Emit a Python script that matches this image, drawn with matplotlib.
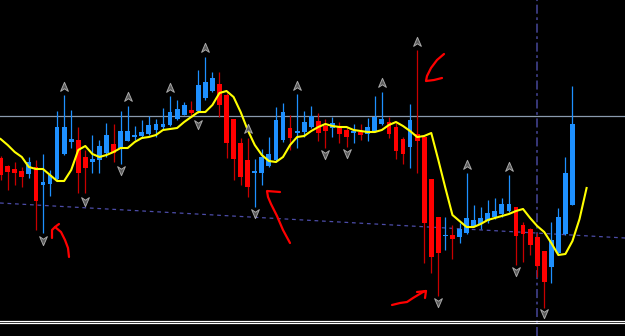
import numpy as np
import matplotlib
matplotlib.use("Agg")
import matplotlib.pyplot as plt
from matplotlib.path import Path

# chart levels are read off the screen, 0 = top edge, 336 = bottom edge
# candle colour: 1 = up (blue), 0 = down (red)
up = [0, 0, 0, 0, 1, 0, 1, 1, 1, 1, 1, 0, 0, 1, 1, 1, 0, 1, 1, 1, 1, 1, 1, 1, 1, 1, 1, 0,
      1, 1, 1, 0, 0, 0, 0, 0, 1, 1, 1, 1, 1, 0, 1, 1, 1, 0, 0, 1, 0, 0, 1, 0, 1, 1, 1, 0,
      0, 0, 1, 0, 0, 0, 0, 1, 0, 1, 1, 1, 1, 1, 1, 1, 1, 0, 0, 0, 0, 0, 1, 1, 1, 1]
body_top = [158, 166, 169, 171, 162, 167, 182, 175, 127, 127, 139, 140, 157, 159, 146, 135,
            144, 131, 131, 135, 132, 125, 124, 124, 112, 109, 105, 110, 85, 82, 78, 84,
            95, 119, 143, 160, 171, 157, 154, 120, 112, 128, 131, 122, 116, 121, 126, 123,
            126, 130, 131, 132, 127, 117, 119, 122, 127, 139, 120, 134, 137, 179, 217, 235,
            235, 229, 218, 220, 218, 213, 211, 204, 204, 207, 225, 229, 237, 251, 240, 217,
            173, 124]
body_bot = [175, 172, 173, 177, 174, 201, 185, 184, 179, 154, 142, 173, 168, 162, 160, 153,
            153, 149, 141, 137, 136, 134, 130, 127, 125, 119, 115, 113, 111, 98, 91, 105,
            143, 159, 177, 187, 173, 173, 166, 160, 140, 138, 133, 132, 127, 133, 131, 128,
            134, 137, 133, 135, 134, 131, 124, 134, 151, 154, 147, 141, 223, 257, 253, 236,
            239, 237, 233, 226, 224, 221, 217, 214, 211, 236, 234, 245, 266, 282, 267, 253,
            234, 205]
high = [156, 165, 162, 167, 157, 160, 154, 170, 111, 95, 110, 127, 150, 135, 140, 123,
        124, 111, 106, 126, 120, 116, 119, 108, 96, 100, 102, 101, 70, 57, 72, 72,
        93, 119, 138, 138, 159, 149, 137, 107, 103, 115, 94, 111, 106, 113, 119, 117,
        122, 127, 124, 124, 118, 96, 92, 117, 123, 137, 104, 50, 137, 179, 217, 217,
        225, 223, 173, 205, 207, 200, 198, 198, 175, 207, 222, 228, 233, 251, 222, 208,
        157, 86]
low = [180, 190, 185, 187, 178, 230, 233, 196, 180, 155, 148, 193, 193, 173, 173, 157,
       162, 164, 141, 140, 137, 135, 137, 130, 126, 120, 115, 117, 113, 100, 92, 117,
       158, 180, 185, 197, 207, 185, 167, 162, 142, 150, 148, 137, 128, 141, 148, 137,
       143, 147, 143, 140, 141, 132, 125, 138, 159, 164, 168, 173, 263, 273, 296, 250,
       259, 243, 234, 227, 229, 223, 219, 217, 212, 265, 262, 255, 277, 308, 283, 255,
       235, 205]

# yellow moving average, runs two bars past the last candle
ma = [139, 145, 152, 157, 167, 169, 169, 175, 181, 181, 170, 150, 146, 154, 157, 155,
      152, 148, 148, 142, 138, 137, 135, 130, 129, 128, 122, 117, 112, 112, 105, 93,
      91, 97, 112, 130, 145, 155, 161, 162, 157, 145, 137, 136, 131, 127, 124, 126,
      127, 127, 130, 131, 132, 132, 130, 125, 122, 126, 131, 137, 136, 133, 160, 188,
      215, 221, 227, 227, 224, 220, 218, 216, 214, 211, 209, 218, 226, 232, 243, 255,
      254, 241, 219, 188]

# fractal arrows (bar index, level)
frac_up_bar = [9, 18, 24, 29, 35, 42, 54, 59, 66, 72]
frac_up_lvl = [87, 97, 88, 48, 129, 86, 83, 42, 165, 167]
frac_dn_bar = [6, 12, 17, 28, 36, 46, 49, 62, 73, 77]
frac_dn_lvl = [240, 201, 170, 124, 213, 154, 153, 302, 271, 313]

# horizontal level, trend line, time separator
level_line = 116
trend_start = 203
trend_end = 238
separator_x = 537

# hand drawn red arrows (screen points)
strokes = [
    [(52, 238), (52, 230), (55, 227), (59, 224)],
    [(55, 227), (61, 232), (65, 240), (68, 248), (69, 257)],
    [(280, 192), (267, 191), (268, 197), (271, 204), (277, 216), (283, 230), (290, 243)],
    [(444, 54), (437, 60), (431, 68), (427, 76), (426, 81), (434, 80), (442, 78)],
    [(392, 305), (400, 303), (407, 302), (413, 298), (418, 295), (423, 292), (426, 291)],
    [(417, 292), (426, 291), (425, 298)],
]

W, H = 625, 336
X0, STEP = 0.6, 7.06

fig = plt.figure(figsize=(W / 100, H / 100), dpi=100, facecolor="black")
ax = fig.add_axes([0, 0, 1, 1], facecolor="black")
ax.set_xlim(0, W)
ax.set_ylim(H, 0)
ax.axis("off")

n = len(up)
xs = X0 + STEP * np.arange(n)
xma = X0 + STEP * np.arange(len(ma))

# background lines
ax.axhline(level_line, color="#8a9aae", lw=0.9, zorder=1)
ax.plot([0, W], [trend_start, trend_end], color="#4c4ca8", lw=0.9,
        dashes=(3, 3), zorder=1)
ax.axvline(separator_x, color="#3c3c82", lw=1.3, dashes=(5, 2, 1.5, 2), zorder=1)
ax.axhline(320.7, color="white", lw=0.9, zorder=5)
ax.axhline(322.7, color="white", lw=0.9, zorder=5)

# candles
for i in range(n):
    body_col = "#1e90ff" if up[i] else "#ff0000"
    wick_col = "#1e90ff" if up[i] else "#c80000"
    ax.vlines(xs[i], high[i], low[i], color=wick_col, lw=0.9, zorder=2)
    h = max(body_bot[i] - body_top[i], 1)
    ax.bar(xs[i], h, bottom=body_top[i], width=4.8, color=body_col,
           linewidth=0, zorder=3)

ax.plot(xma, ma, color="#ffff00", lw=1.5, zorder=4)

# fractal markers (marker shapes are drawn in screen space)
up_arrow = Path([(0, 1), (0.75, -0.75), (0, -0.25), (-0.75, -0.75), (0, 1)],
                [Path.MOVETO, Path.LINETO, Path.LINETO, Path.LINETO, Path.CLOSEPOLY])
dn_arrow = Path([(0, -1), (0.75, 0.75), (0, 0.25), (-0.75, 0.75), (0, -1)],
                [Path.MOVETO, Path.LINETO, Path.LINETO, Path.LINETO, Path.CLOSEPOLY])
ax.scatter(X0 + STEP * np.array(frac_up_bar), frac_up_lvl, marker=up_arrow, s=55,
           facecolor="#5a5a5a", edgecolor="#a8a8a8", linewidth=0.7, zorder=5)
ax.scatter(X0 + STEP * np.array(frac_dn_bar), frac_dn_lvl, marker=dn_arrow, s=55,
           facecolor="#5a5a5a", edgecolor="#a8a8a8", linewidth=0.7, zorder=5)

for s in strokes:
    px, py = zip(*s)
    ax.plot(px, py, color="#ff0000", lw=1.6, solid_capstyle="round", zorder=6)

fig.savefig("out.png", dpi=100, facecolor="black")
